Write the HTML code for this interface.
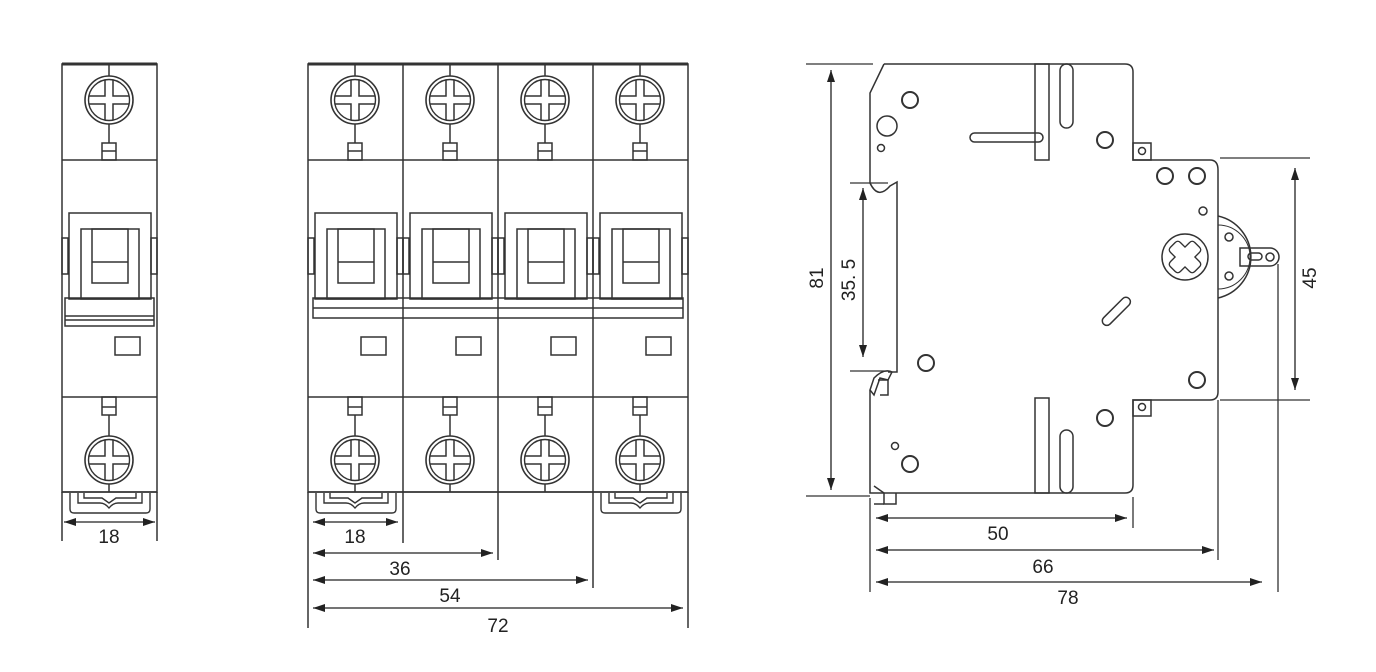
<!DOCTYPE html>
<html><head><meta charset="utf-8"><style>
html,body{margin:0;padding:0;background:#fff;}
svg{display:block}
text{font-family:"Liberation Sans",sans-serif;font-size:19px;fill:#222}
</style></head><body>
<svg width="1376" height="672" viewBox="0 0 1376 672" xmlns="http://www.w3.org/2000/svg">
<defs>
<marker id="a" viewBox="0 0 12 8" refX="12" refY="4" markerWidth="12" markerHeight="8" orient="auto-start-reverse" markerUnits="userSpaceOnUse"><path d="M0,0 L12,4 L0,8 Z" fill="#222"/></marker>
<g id="screw">
<circle r="24" fill="none" stroke="#333" stroke-width="1.6"/>
<circle r="20.5" fill="none" stroke="#333" stroke-width="1.4"/>
<path d="M-4,-20 V-4 H-20 M4,-20 V-4 H20 M-4,20 V4 H-20 M4,20 V4 H20" fill="none" stroke="#333" stroke-width="1.5"/>
</g>
<g id="pole" fill="none" stroke="#333" stroke-width="1.5">
<line x1="0" y1="96" x2="95" y2="96"/>
<line x1="0" y1="333" x2="95" y2="333"/>
<line x1="0" y1="428" x2="95" y2="428"/>
<use href="#screw" x="47" y="36"/>
<line x1="47" y1="0" x2="47" y2="12"/>
<line x1="47" y1="60" x2="47" y2="79"/>
<rect x="40" y="79" width="14" height="17"/><line x1="40" y1="87" x2="54" y2="87"/>
<use href="#screw" x="47" y="396"/>
<line x1="47" y1="351" x2="47" y2="372"/>
<line x1="47" y1="420" x2="47" y2="428"/>
<rect x="40" y="333" width="14" height="18"/><line x1="40" y1="343" x2="54" y2="343"/>
<rect x="7" y="149" width="82" height="86"/>
<rect x="19" y="165" width="58" height="70"/>
<rect x="30" y="165" width="36" height="54"/>
<line x1="30" y1="198" x2="66" y2="198"/>
<rect x="0" y="174" width="6" height="36"/>
<rect x="89" y="174" width="6" height="36"/>
<rect x="53" y="273" width="25" height="18"/>
</g>
<g id="clip" fill="none" stroke="#333" stroke-width="1.4">
<path d="M8,429 V445 Q8,449 12,449 H84 Q88,449 88,445 V429"/>
<path d="M16,429 V439 H38 Q43,439 47,444 Q51,439 56,439 H80 V429"/>
<path d="M22,429 V434 H40 L47,439 L54,434 H74 V429"/>
</g>
</defs>

<!-- single pole -->
<g transform="translate(62,64)">
<rect x="0" y="0" width="95" height="428" fill="none" stroke="#333" stroke-width="1.5"/>
<line x1="0" y1="0" x2="95" y2="0" stroke="#333" stroke-width="3"/>
<use href="#pole"/>
<rect x="3" y="234" width="89" height="28" fill="none" stroke="#333" stroke-width="1.5"/>
<line x1="3" y1="252" x2="92" y2="252" stroke="#333" stroke-width="1.5"/>
<line x1="3" y1="256" x2="92" y2="256" stroke="#333" stroke-width="1.5"/>
<use href="#clip"/>
<line x1="0" y1="428" x2="0" y2="477" stroke="#333" stroke-width="1.5"/>
<line x1="95" y1="428" x2="95" y2="477" stroke="#333" stroke-width="1.5"/>
<line x1="2" y1="458" x2="93" y2="458" stroke="#222" stroke-width="1.3" marker-start="url(#a)" marker-end="url(#a)"/>
</g>
<text x="109" y="543" text-anchor="middle">18</text>

<!-- four pole -->
<g transform="translate(308,64)">
<use href="#pole" x="0"/><use href="#pole" x="95"/><use href="#pole" x="190"/><use href="#pole" x="285"/>
<rect x="0" y="0" width="380" height="428" fill="none" stroke="#333" stroke-width="1.5"/>
<line x1="0" y1="0" x2="380" y2="0" stroke="#333" stroke-width="3"/>
<line x1="95" y1="0" x2="95" y2="428" stroke="#333" stroke-width="1.5"/>
<line x1="190" y1="0" x2="190" y2="428" stroke="#333" stroke-width="1.5"/>
<line x1="285" y1="0" x2="285" y2="428" stroke="#333" stroke-width="1.5"/>
<rect x="5" y="234" width="370" height="20" fill="none" stroke="#333" stroke-width="1.5"/>
<line x1="5" y1="244" x2="375" y2="244" stroke="#333" stroke-width="1.5"/>
<use href="#clip" x="0"/><use href="#clip" x="285"/>
<g stroke="#333" stroke-width="1.5">
<line x1="0" y1="428" x2="0" y2="564"/>
<line x1="95" y1="428" x2="95" y2="479"/>
<line x1="190" y1="428" x2="190" y2="496"/>
<line x1="285" y1="428" x2="285" y2="524"/>
<line x1="380" y1="428" x2="380" y2="564"/>
</g>
<g stroke="#222" stroke-width="1.3">
<line x1="5" y1="458" x2="90" y2="458" marker-start="url(#a)" marker-end="url(#a)"/>
<line x1="5" y1="489" x2="185" y2="489" marker-start="url(#a)" marker-end="url(#a)"/>
<line x1="5" y1="516" x2="280" y2="516" marker-start="url(#a)" marker-end="url(#a)"/>
<line x1="5" y1="544" x2="375" y2="544" marker-start="url(#a)" marker-end="url(#a)"/>
</g>
</g>
<text x="355" y="543" text-anchor="middle">18</text>
<text x="400" y="575" text-anchor="middle">36</text>
<text x="450" y="602" text-anchor="middle">54</text>
<text x="498" y="632" text-anchor="middle">72</text>

<!-- side view -->
<g fill="none" stroke="#333" stroke-width="1.5">
<path d="M884,64 H1125 Q1133,64 1133,72 V160 H1210 Q1218,160 1218,170 V392 Q1218,400 1210,400 H1133 V485 Q1133,493 1125,493 H893"/>
<path d="M884,64 L870,93 V183 Q878,200 890,186 L897,182 V372 H888"/>
<path d="M870,390 V493 L893,493"/>
<path d="M870,390 L874,378 Q884,368 892,372 L888,380 L880,378 L874,395 Z"/>
<path d="M878,380 H888 V395 H880"/>
<path d="M874,486 L884,493 V504 H896 V493"/>
<line x1="874" y1="504" x2="884" y2="504"/>
<rect x="1035" y="64" width="14" height="96"/>
<rect x="1060" y="64" width="13" height="64" rx="6.5"/>
<rect x="970" y="133" width="73" height="9" rx="4.5"/>
<rect x="1035" y="398" width="14" height="95"/>
<rect x="1060" y="430" width="13" height="63" rx="6.5"/>
<rect x="1098" y="307" width="36" height="9" rx="4.5" transform="rotate(-45 1116 311)"/>
<g stroke-width="2">
<circle cx="910" cy="100" r="8"/><circle cx="1105" cy="140" r="8"/>
<circle cx="1165" cy="176" r="8"/><circle cx="1197" cy="176" r="8"/>
<circle cx="1197" cy="380" r="8"/><circle cx="1105" cy="418" r="8"/>
<circle cx="926" cy="363" r="8"/><circle cx="910" cy="464" r="8"/>
</g>
<circle cx="887" cy="126" r="10"/><circle cx="881" cy="148" r="3.5"/>
<circle cx="1203" cy="211" r="4"/><circle cx="895" cy="446" r="3.5"/>
<circle cx="1185" cy="257" r="23"/>
<path d="M-5,-16 L0,-11 L5,-16 Q8,-19 11,-16 L16,-11 Q19,-8 16,-5 L11,0 L16,5 Q19,8 16,11 L11,16 Q8,19 5,16 L0,11 L-5,16 Q-8,19 -11,16 L-16,11 Q-19,8 -16,5 L-11,0 L-16,-5 Q-19,-8 -16,-11 L-11,-16 Q-8,-19 -5,-16 Z" transform="translate(1185,257) scale(0.9)"/>
<path d="M1218,216 A42,42 0 0 1 1218,298"/>
<path d="M1218,225 A32,32 0 0 1 1218,289" stroke-width="1"/>
<circle cx="1229" cy="237" r="4"/><circle cx="1229" cy="276" r="4"/>
<path d="M1240,248 H1270 A9,9 0 0 1 1270,266 H1240 Z"/>
<rect x="1248" y="253" width="14" height="7" rx="3.5"/><circle cx="1270" cy="257" r="4"/>
<rect x="1133" y="143" width="18" height="17"/><circle cx="1142" cy="151" r="3.5"/>
<rect x="1133" y="400" width="18" height="16"/><circle cx="1142" cy="407" r="3.5"/>
</g>
<g stroke="#333" stroke-width="1.3">
<line x1="806" y1="64" x2="873" y2="64"/>
<line x1="806" y1="496" x2="870" y2="496"/>
<line x1="850" y1="183" x2="888" y2="183"/>
<line x1="850" y1="371" x2="888" y2="371"/>
<line x1="1220" y1="158" x2="1310" y2="158"/>
<line x1="1220" y1="400" x2="1310" y2="400"/>
<line x1="870" y1="498" x2="870" y2="592"/>
<line x1="1133" y1="497" x2="1133" y2="528"/>
<line x1="1218" y1="400" x2="1218" y2="560"/>
<line x1="1278" y1="264" x2="1278" y2="592"/>
</g>
<g stroke="#222" stroke-width="1.3">
<line x1="831" y1="70" x2="831" y2="490" marker-start="url(#a)" marker-end="url(#a)"/>
<line x1="863" y1="188" x2="863" y2="357" marker-start="url(#a)" marker-end="url(#a)"/>
<line x1="1295" y1="168" x2="1295" y2="390" marker-start="url(#a)" marker-end="url(#a)"/>
<line x1="876" y1="518" x2="1127" y2="518" marker-start="url(#a)" marker-end="url(#a)"/>
<line x1="876" y1="550" x2="1214" y2="550" marker-start="url(#a)" marker-end="url(#a)"/>
<line x1="876" y1="582" x2="1262" y2="582" marker-start="url(#a)" marker-end="url(#a)"/>
</g>
<text x="998" y="540" text-anchor="middle">50</text>
<text x="1043" y="573" text-anchor="middle">66</text>
<text x="1068" y="604" text-anchor="middle">78</text>
<text transform="translate(823,278) rotate(-90)" text-anchor="middle">81</text>
<text transform="translate(855,280) rotate(-90)" text-anchor="middle">35. 5</text>
<text transform="translate(1316,278) rotate(-90)" text-anchor="middle">45</text>
</svg>
</body></html>
